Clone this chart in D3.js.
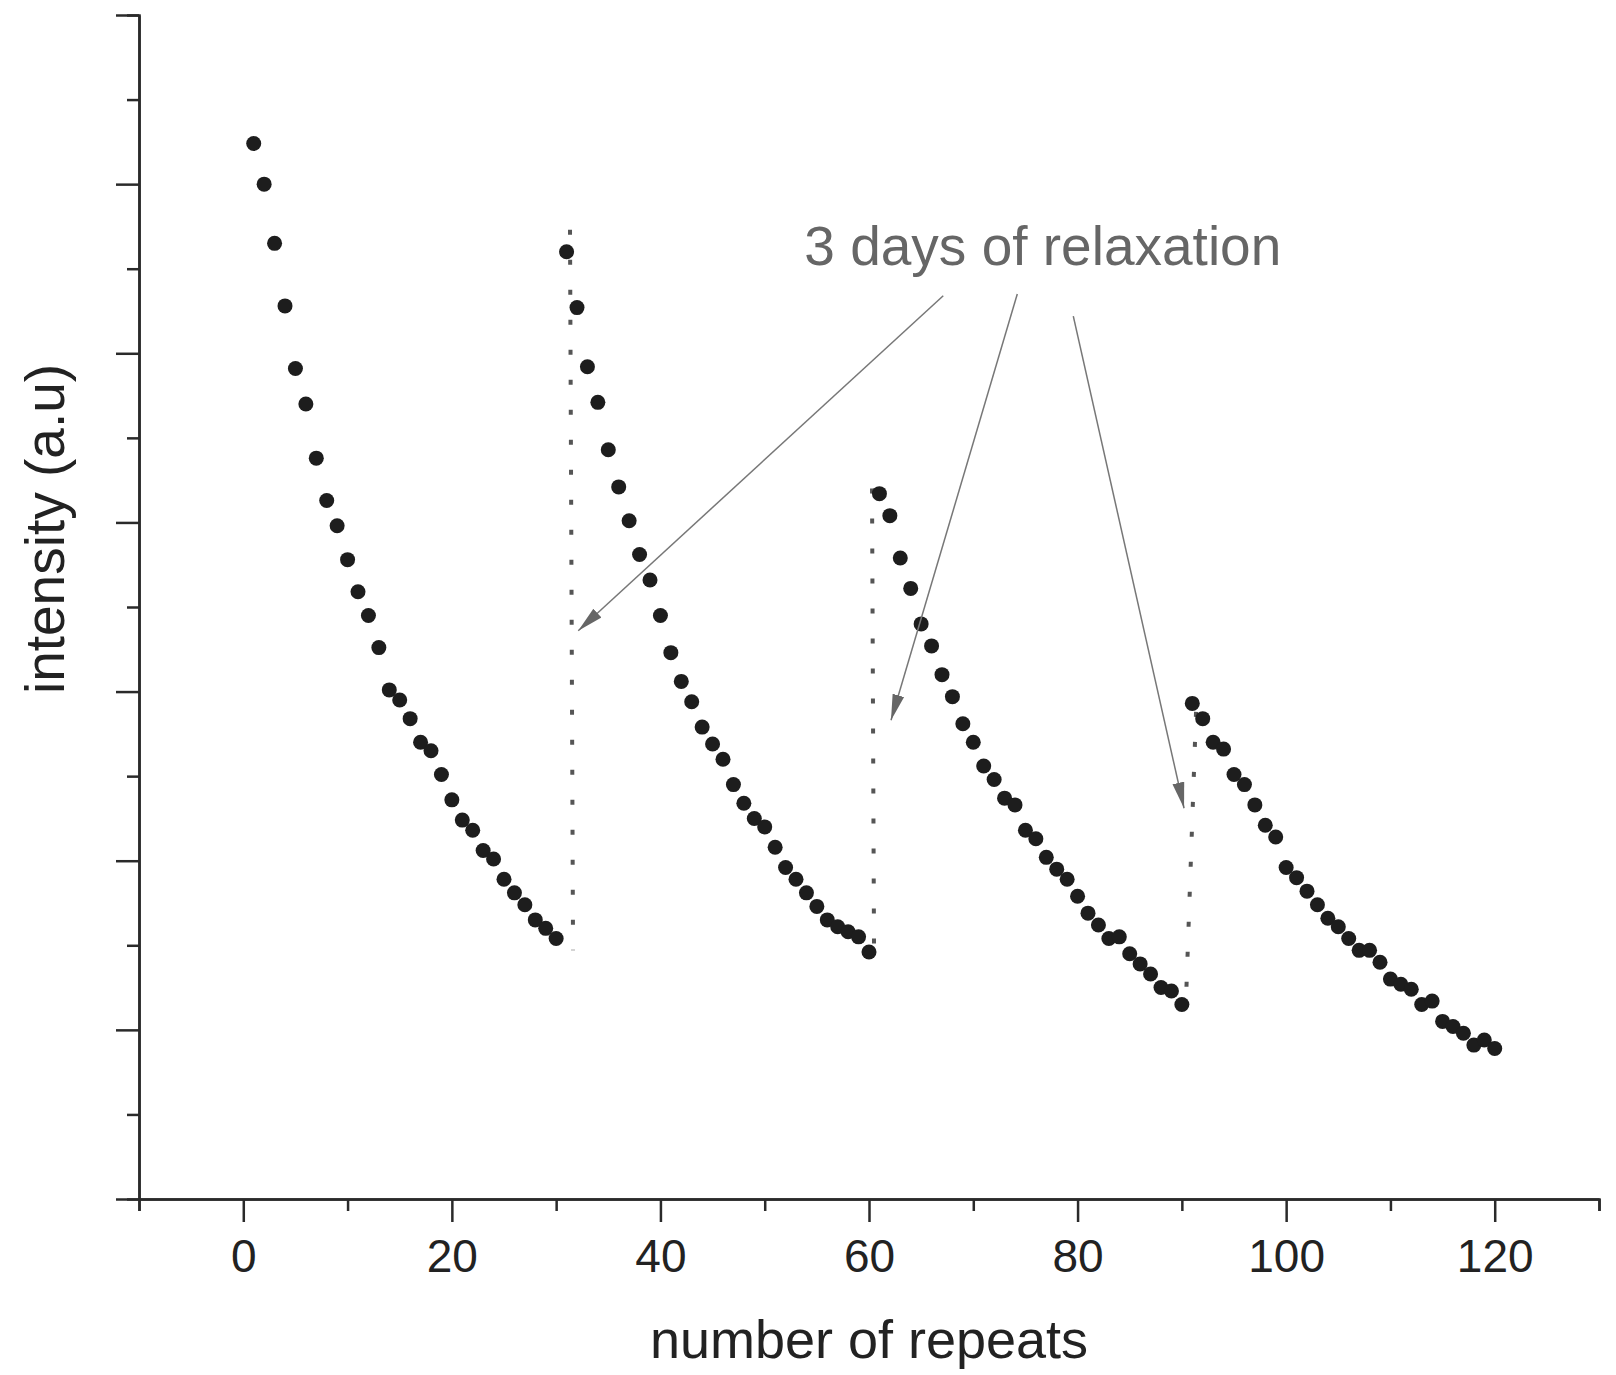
<!DOCTYPE html>
<html>
<head>
<meta charset="utf-8">
<script src="https://cdn.jsdelivr.net/npm/d3@7"></script>
<style>
  body { margin: 0; background: #fff; }
  svg { display: block; font-family: "Liberation Sans", Arial, sans-serif; }
</style>
</head>
<body>
<div id="chart-area"></div>
<script>
// repeat number for each measured point
var repeats = d3.range(1, 121);

// intensity (a.u), 4 runs of 30 repeats
var run1 = [6.24, 6.00, 5.65, 5.28, 4.91, 4.70, 4.38, 4.13, 3.98, 3.78,
            3.59, 3.45, 3.26, 3.01, 2.95, 2.84, 2.70, 2.65, 2.51, 2.36,
            2.24, 2.18, 2.06, 2.01, 1.89, 1.81, 1.74, 1.65, 1.60, 1.54];
var run2 = [5.60, 5.27, 4.92, 4.71, 4.43, 4.21, 4.01, 3.81, 3.66, 3.45,
            3.23, 3.06, 2.94, 2.79, 2.69, 2.60, 2.45, 2.34, 2.25, 2.20,
            2.08, 1.96, 1.89, 1.81, 1.73, 1.65, 1.61, 1.58, 1.55, 1.46];
var run3 = [4.17, 4.04, 3.79, 3.61, 3.40, 3.27, 3.10, 2.97, 2.81, 2.70,
            2.56, 2.48, 2.37, 2.33, 2.18, 2.13, 2.02, 1.95, 1.89, 1.79,
            1.69, 1.62, 1.54, 1.55, 1.45, 1.39, 1.33, 1.25, 1.23, 1.15];
var run4 = [2.93, 2.84, 2.70, 2.66, 2.51, 2.45, 2.33, 2.21, 2.14, 1.96,
            1.90, 1.82, 1.74, 1.66, 1.61, 1.54, 1.47, 1.47, 1.40, 1.30,
            1.27, 1.24, 1.15, 1.17, 1.05, 1.02, 0.98, 0.91, 0.94, 0.89];

// dotted lines marking the relaxation breaks: [x top, y top, x bottom, y bottom]
var breaks = [
    [31.33, 5.73, 31.62, 1.47],
    [60.29, 4.20, 60.48, 1.50],
    [91.36, 2.88, 90.40, 1.18]
];

// annotation and its arrows: [x from, y from, x to, y to]
var noteText = "3 days of relaxation";
var notePos = [53.8, 5.52];
var arrows = [
    [67.12, 5.34, 32.12, 3.36],
    [74.22, 5.35, 62.11, 2.83],
    [79.59, 5.22, 90.21, 2.31]
];

var xTicks = [0, 20, 40, 60, 80, 100, 120];
var xMinorTicks = [-10, 10, 30, 50, 70, 90, 110, 130];

var values = run1.concat(run2, run3, run4);
var data = repeats.map(function(r, i) { return { x: r, y: values[i] }; });

var margin = { left: 139, right: 17, top: 15, bottom: 176 };
var width = 1616 - margin.left - margin.right,
    height = 1375 - margin.top - margin.bottom;

var svg = d3.select("#chart-area")
    .append("svg")
        .attr("width", 1616)
        .attr("height", 1375);

var g = svg.append("g")
    .attr("transform", "translate(" + margin.left + ", " + margin.top + ")");

// X Scale
var x = d3.scaleLinear()
    .domain([-10, 130])
    .range([0, width]);

// Y Scale
var y = d3.scaleLinear()
    .domain([0, 7])
    .range([height, 0]);

// arrow head
svg.append("defs").append("marker")
    .attr("id", "head")
    .attr("markerUnits", "userSpaceOnUse")
    .attr("viewBox", "0 -7 26 14")
    .attr("refX", 26)
    .attr("refY", 0)
    .attr("markerWidth", 26)
    .attr("markerHeight", 14)
    .attr("orient", "auto")
  .append("path")
    .attr("d", "M0,-6L26,0L0,6Z")
    .attr("fill", "#666");

// Y Axis (minor then major ticks)
g.append("g")
    .attr("class", "y axis minor")
    .call(d3.axisLeft(y).tickValues(d3.range(0.5, 7, 1)).tickSize(12).tickFormat(""));
g.append("g")
    .attr("class", "y axis major")
    .call(d3.axisLeft(y).tickValues(d3.range(0, 8)).tickSize(23).tickSizeOuter(0).tickFormat(""));

// X Axis
g.append("g")
    .attr("class", "x axis minor")
    .attr("transform", "translate(0," + height + ")")
    .call(d3.axisBottom(x).tickValues(xMinorTicks).tickSize(12).tickFormat(""));
var xAxisGroup = g.append("g")
    .attr("class", "x axis major")
    .attr("transform", "translate(0," + height + ")")
    .call(d3.axisBottom(x).tickValues(xTicks).tickSize(23).tickSizeOuter(0).tickPadding(17));

g.selectAll(".axis path, .axis line")
    .attr("stroke", "#2a2a2a")
    .attr("stroke-width", 2.5);
xAxisGroup.selectAll("text")
    .attr("font-size", "46px")
    .attr("fill", "#222")
    .attr("font-family", "Liberation Sans, Arial, sans-serif");

// X Label
g.append("text")
    .attr("x", width / 2)
    .attr("y", height + 159)
    .attr("font-size", "54px")
    .attr("text-anchor", "middle")
    .attr("fill", "#222")
    .text("number of repeats");

// Y Label
g.append("text")
    .attr("transform", "translate(" + (64 - margin.left) + "," + (529 - margin.top) + ") rotate(-90)")
    .attr("font-size", "55px")
    .attr("text-anchor", "middle")
    .attr("fill", "#222")
    .text("intensity (a.u)");

// dotted break lines
g.selectAll("line.break")
    .data(breaks)
    .enter().append("line")
        .attr("class", "break")
        .attr("x1", function(d) { return x(d[0]); })
        .attr("y1", function(d) { return y(d[1]); })
        .attr("x2", function(d) { return x(d[2]); })
        .attr("y2", function(d) { return y(d[3]); })
        .attr("stroke", "#555")
        .attr("stroke-width", 4)
        .attr("stroke-dasharray", "5,25");

// points
g.selectAll("circle")
    .data(data)
    .enter().append("circle")
        .attr("cx", function(d) { return x(d.x); })
        .attr("cy", function(d) { return y(d.y); })
        .attr("r", 7.5)
        .attr("fill", "#1d1d1d");

// annotation arrows
g.selectAll("line.arrow")
    .data(arrows)
    .enter().append("line")
        .attr("class", "arrow")
        .attr("x1", function(d) { return x(d[0]); })
        .attr("y1", function(d) { return y(d[1]); })
        .attr("x2", function(d) { return x(d[2]); })
        .attr("y2", function(d) { return y(d[3]); })
        .attr("stroke", "#777")
        .attr("stroke-width", 1.5)
        .attr("marker-end", "url(#head)");

g.append("text")
    .attr("x", x(notePos[0]))
    .attr("y", y(notePos[1]))
    .attr("font-size", "55px")
    .attr("fill", "#666")
    .text(noteText);
</script>
</body>
</html>
